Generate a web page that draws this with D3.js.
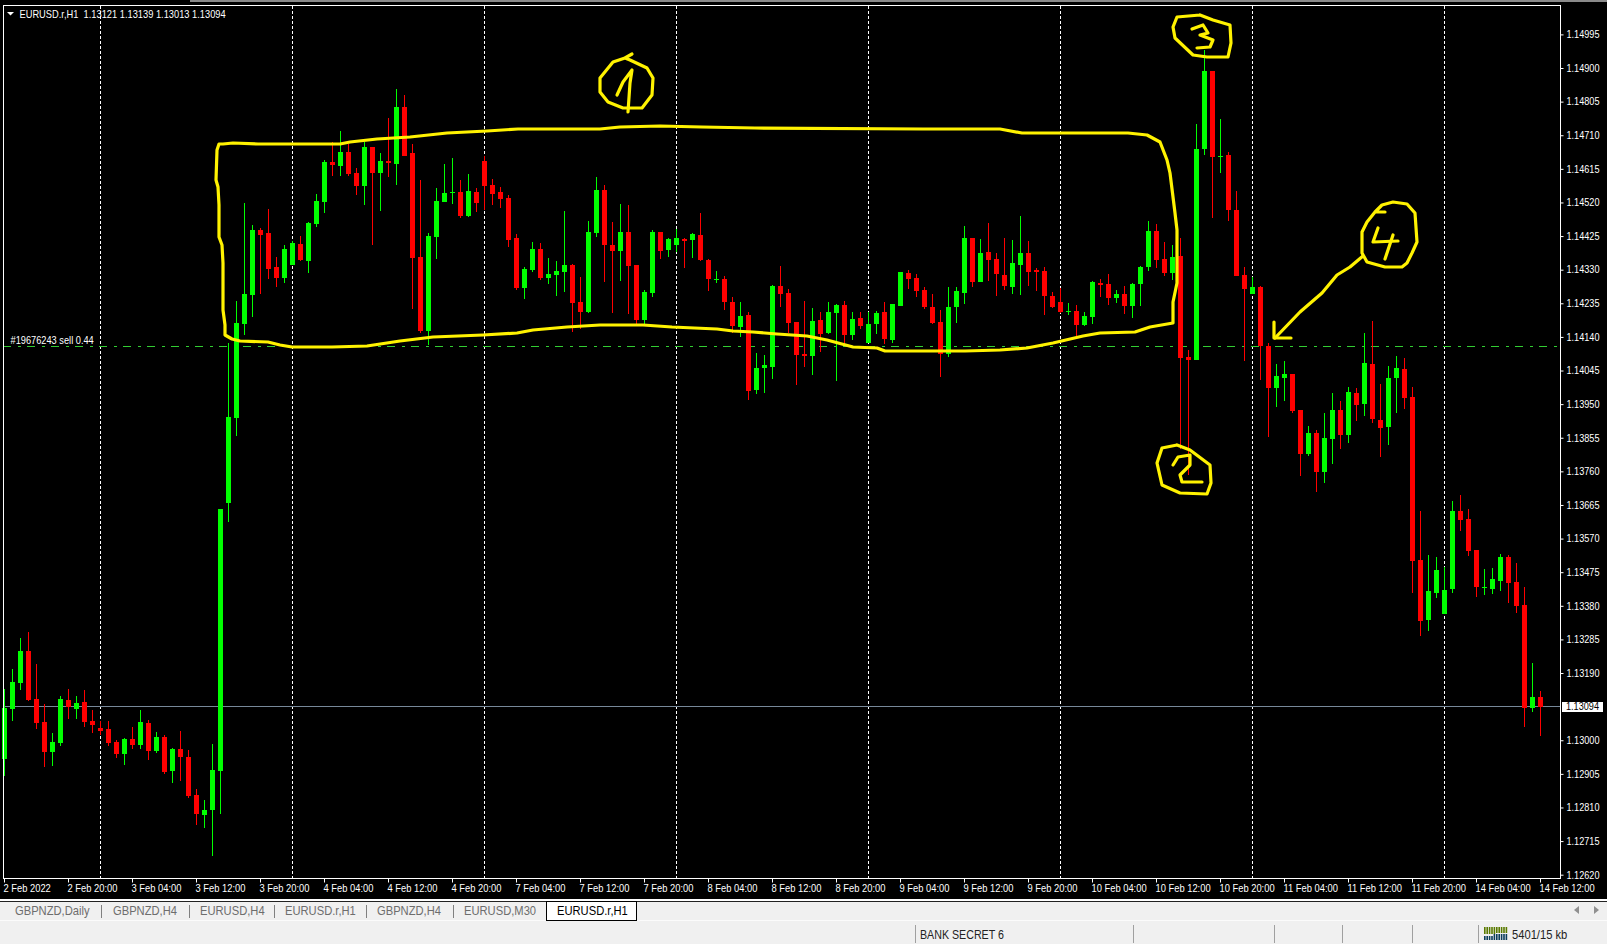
<!DOCTYPE html>
<html><head><meta charset="utf-8">
<script src="https://cdn.jsdelivr.net/npm/d3@7/dist/d3.min.js"></script>
<style>
html,body{margin:0;padding:0;background:#000;overflow:hidden}
svg{display:block}
text{font-family:"Liberation Sans",sans-serif}
</style></head><body><svg id="c" width="1607" height="944"></svg>
<script>
const open=[1.12947,1.13088,1.13161,1.13252,1.13116,1.13051,1.12966,1.12991,1.13113,1.13088,
1.13108,1.13054,1.13034,1.13031,1.12995,1.12961,1.13003,1.12986,1.13048,1.12969,
1.13009,1.12913,1.12975,1.12952,1.12845,1.12788,1.12802,1.12913,1.13671,1.13911,
1.14177,1.14259,1.14442,1.14434,1.14338,1.14306,1.14343,1.14402,1.14354,1.14459,
1.14521,1.14634,1.14623,1.14662,1.14603,1.14566,1.14677,1.14603,1.14637,1.14629,
1.14790,1.14660,1.14366,1.14157,1.14422,1.14521,1.14547,1.14549,1.14482,1.14549,
1.14637,1.14569,1.14549,1.14532,1.14419,1.14278,1.14329,1.14388,1.14306,1.14315,
1.14323,1.14343,1.14238,1.14210,1.14434,1.14556,1.14400,1.14383,1.14437,1.14344,
1.14188,1.14264,1.14437,1.14386,1.14400,1.14417,1.14414,1.14428,1.14358,1.14301,
1.14304,1.14239,1.14168,1.14202,1.13990,1.14052,1.14055,1.14284,1.14264,1.14182,
1.14092,1.14086,1.14188,1.14151,1.14208,1.14231,1.14146,1.14194,1.14123,1.14177,
1.14211,1.14132,1.14228,1.14321,1.14307,1.14273,1.14225,1.14182,1.14092,1.14225,
1.14264,1.14420,1.14296,1.14380,1.14361,1.14315,1.14281,1.14343,1.14377,1.14329,
1.14326,1.14255,1.14238,1.14210,1.14213,1.14173,1.14196,1.14292,1.14289,1.14250,
1.14261,1.14227,1.14289,1.14337,1.14439,1.14360,1.14320,1.14368,1.14083,1.14074,
1.14671,1.14891,1.14648,1.14654,1.14498,1.14315,1.14261,1.14281,1.14114,1.13995,
1.14024,1.14035,1.13933,1.13809,1.13868,1.13758,1.13851,1.13933,1.13862,1.13981,
1.13950,1.14063,1.13905,1.13885,1.14024,1.14049,1.13970,1.13509,1.13339,1.13416,
1.13356,1.13427,1.13648,1.13625,1.13537,1.13430,1.13427,1.13450,1.13518,1.13447,
1.13382,1.13091,1.13121];
const high=[1.13144,1.13201,1.13289,1.13306,1.13215,1.13102,1.13020,1.13125,1.13144,1.13125,
1.13142,1.13085,1.13054,1.13054,1.13000,1.13006,1.13037,1.13085,1.13057,1.13023,
1.13014,1.12978,1.13026,1.12972,1.12862,1.12831,1.12989,1.13654,1.14122,1.14242,
1.14519,1.14456,1.14448,1.14502,1.14366,1.14400,1.14411,1.14425,1.14465,1.14544,
1.14640,1.14691,1.14722,1.14685,1.14617,1.14691,1.14677,1.14660,1.14759,1.14841,
1.14824,1.14685,1.14583,1.14434,1.14561,1.14629,1.14646,1.14583,1.14600,1.14561,
1.14651,1.14586,1.14564,1.14541,1.14431,1.14337,1.14408,1.14405,1.14363,1.14354,
1.14496,1.14346,1.14309,1.14467,1.14592,1.14570,1.14465,1.14516,1.14513,1.14344,
1.14273,1.14443,1.14437,1.14420,1.14445,1.14420,1.14434,1.14491,1.14361,1.14327,
1.14313,1.14253,1.14239,1.14211,1.14095,1.14089,1.14287,1.14341,1.14276,1.14182,
1.14242,1.14222,1.14211,1.14239,1.14233,1.14242,1.14211,1.14211,1.14211,1.14214,
1.14239,1.14233,1.14324,1.14329,1.14318,1.14281,1.14262,1.14216,1.14281,1.14281,
1.14454,1.14420,1.14417,1.14462,1.14378,1.14419,1.14414,1.14481,1.14411,1.14334,
1.14337,1.14267,1.14278,1.14236,1.14230,1.14210,1.14298,1.14303,1.14318,1.14272,
1.14284,1.14292,1.14340,1.14467,1.14459,1.14408,1.14399,1.14419,1.14103,1.14742,
1.14951,1.14891,1.14756,1.14662,1.14552,1.14337,1.14309,1.14284,1.14122,1.14063,
1.14072,1.14035,1.13933,1.13888,1.13877,1.13925,1.13981,1.13959,1.13998,1.13995,
1.14151,1.14185,1.14007,1.14057,1.14086,1.14080,1.13998,1.13648,1.13523,1.13518,
1.13489,1.13676,1.13693,1.13653,1.13537,1.13484,1.13486,1.13526,1.13523,1.13501,
1.13433,1.13218,1.13139];
const low=[1.12899,1.13054,1.13142,1.13111,1.13031,1.12924,1.12927,1.12983,1.13060,1.13060,
1.13037,1.13020,1.13014,1.12983,1.12949,1.12930,1.12975,1.12975,1.12944,1.12964,
1.12904,1.12879,1.12884,1.12836,1.12760,1.12752,1.12672,1.12791,1.13618,1.13860,
1.14146,1.14196,1.14261,1.14304,1.14281,1.14292,1.14343,1.14354,1.14320,1.14450,
1.14490,1.14595,1.14595,1.14595,1.14541,1.14513,1.14400,1.14496,1.14592,1.14569,
1.14651,1.14219,1.14151,1.14117,1.14360,1.14521,1.14516,1.14476,1.14479,1.14493,
1.14499,1.14513,1.14504,1.14394,1.14272,1.14247,1.14323,1.14301,1.14289,1.14255,
1.14267,1.14154,1.14162,1.14207,1.14422,1.14296,1.14208,1.14298,1.14205,1.14177,
1.14174,1.14253,1.14361,1.14366,1.14380,1.14335,1.14363,1.14355,1.14270,1.14293,
1.14216,1.14151,1.14140,1.13962,1.13979,1.13982,1.14021,1.14225,1.14151,1.14004,
1.14055,1.14033,1.14098,1.14149,1.14016,1.14117,1.14132,1.14163,1.14123,1.14149,
1.14120,1.14123,1.14228,1.14276,1.14253,1.14219,1.14177,1.14027,1.14084,1.14180,
1.14233,1.14281,1.14296,1.14298,1.14256,1.14272,1.14261,1.14258,1.14284,1.14269,
1.14202,1.14221,1.14207,1.14202,1.14142,1.14171,1.14176,1.14252,1.14230,1.14236,
1.14204,1.14193,1.14227,1.14326,1.14334,1.14312,1.14301,1.13823,1.13749,1.14074,
1.14654,1.14476,1.14603,1.14467,1.14312,1.14072,1.14261,1.14018,1.13857,1.13942,
1.13959,1.13925,1.13747,1.13803,1.13701,1.13727,1.13780,1.13823,1.13840,1.13902,
1.13916,1.13896,1.13800,1.13834,1.13925,1.13936,1.13416,1.13294,1.13308,1.13402,
1.13356,1.13416,1.13591,1.13520,1.13404,1.13410,1.13413,1.13421,1.13388,1.13359,
1.13037,1.13079,1.13013];
const close=[1.13091,1.13164,1.13252,1.13113,1.13048,1.12966,1.12995,1.13116,1.13094,1.13105,
1.13051,1.13043,1.13025,1.12991,1.12961,1.13003,1.12986,1.13051,1.12969,1.13009,
1.12910,1.12975,1.12952,1.12842,1.12791,1.12802,1.12915,1.13654,1.13914,1.14179,
1.14261,1.14442,1.14428,1.14332,1.14307,1.14388,1.14405,1.14357,1.14462,1.14524,
1.14634,1.14626,1.14662,1.14600,1.14566,1.14677,1.14603,1.14637,1.14631,1.14790,
1.14651,1.14363,1.14157,1.14425,1.14524,1.14547,1.14549,1.14482,1.14552,1.14518,
1.14566,1.14544,1.14530,1.14414,1.14278,1.14332,1.14388,1.14306,1.14318,1.14326,
1.14343,1.14236,1.14210,1.14436,1.14555,1.14400,1.14383,1.14437,1.14341,1.14188,
1.14267,1.14437,1.14383,1.14417,1.14420,1.14411,1.14431,1.14358,1.14304,1.14304,
1.14239,1.14171,1.14199,1.13987,1.14052,1.14061,1.14284,1.14262,1.14180,1.14089,
1.14086,1.14185,1.14149,1.14211,1.14231,1.14146,1.14191,1.14171,1.14177,1.14208,
1.14134,1.14233,1.14324,1.14304,1.14270,1.14225,1.14180,1.14092,1.14225,1.14270,
1.14420,1.14296,1.14378,1.14358,1.14318,1.14284,1.14349,1.14377,1.14323,1.14323,
1.14255,1.14224,1.14210,1.14213,1.14173,1.14199,1.14295,1.14286,1.14250,1.14261,
1.14227,1.14289,1.14337,1.14439,1.14357,1.14320,1.14366,1.14080,1.14074,1.14671,
1.14891,1.14648,1.14651,1.14498,1.14312,1.14275,1.14281,1.14114,1.13995,1.14029,
1.14035,1.13930,1.13809,1.13868,1.13758,1.13854,1.13933,1.13862,1.13984,1.13947,
1.14066,1.13908,1.13882,1.14024,1.14052,1.13967,1.13506,1.13337,1.13421,1.13481,
1.13424,1.13648,1.13622,1.13535,1.13433,1.13433,1.13455,1.13518,1.13444,1.13379,
1.13091,1.13122,1.13094];
const xTickLabels=["2 Feb 2022","2 Feb 20:00","3 Feb 04:00","3 Feb 12:00","3 Feb 20:00","4 Feb 04:00","4 Feb 12:00","4 Feb 20:00","7 Feb 04:00","7 Feb 12:00","7 Feb 20:00","8 Feb 04:00","8 Feb 12:00","8 Feb 20:00","9 Feb 04:00","9 Feb 12:00","9 Feb 20:00","10 Feb 04:00","10 Feb 12:00","10 Feb 20:00","11 Feb 04:00","11 Feb 12:00","11 Feb 20:00","14 Feb 04:00","14 Feb 12:00"];
const priceTicks=[1.14995,1.14900,1.14805,1.14710,1.14615,1.14520,1.14425,1.14330,1.14235,1.14140,1.14045,1.13950,1.13855,1.13760,1.13665,1.13570,1.13475,1.13380,1.13285,1.13190,1.13000,1.12905,1.12810,1.12715,1.12620];
const separatorBars=[12,36,60,84,108,132,156,180];
const bid=1.13094, orderPrice=1.14113;
const header="EURUSD.r,H1  1.13121 1.13139 1.13013 1.13094";
const orderLabel="#19676243 sell 0.44";
const tabs=["GBPNZD,Daily","GBPNZD,H4","EURUSD,H4","EURUSD.r,H1","GBPNZD,H4","EURUSD,M30","EURUSD.r,H1"];
const statusBroker="BANK SECRET 6", statusConn="5401/15 kb";

const svg=d3.select("#c");
const L=3,R=1560,T=5,B=878;
const x=d3.scaleLinear().domain([0,192]).range([4.5,1540.5]);
const y=d3.scaleLinear().domain([1.14995,1.12620]).range([34.4,874.7]);
const GREEN="#00ff00",RED="#ff0000";
// Tahoma-like narrowing of the installed sans
function squeeze(sel,r){sel.each(function(){const n=this.getComputedTextLength();this.setAttribute("textLength",(n*r).toFixed(2));this.setAttribute("lengthAdjust","spacingAndGlyphs");});return sel;}
const levelY=p=>Math.floor(y(p)-0.3)+.5;

svg.append("rect").attr("width",1607).attr("height",944).attr("fill","#000");
svg.append("rect").attr("x",190).attr("width",1417).attr("height",2).attr("fill","#8a8a8a");

// period separators
svg.append("g").selectAll("line").data(separatorBars).join("line")
 .attr("x1",d=>Math.floor(x(d))+.5).attr("x2",d=>Math.floor(x(d))+.5)
 .attr("y1",T+1).attr("y2",B).attr("stroke","#fff").attr("stroke-dasharray","3,2");

// horizontal levels
svg.append("line").attr("x1",L).attr("x2",R).attr("y1",levelY(bid)).attr("y2",levelY(bid)).attr("stroke","#778899");
svg.append("line").attr("x1",L).attr("x2",R).attr("y1",levelY(orderPrice)).attr("y2",levelY(orderPrice))
 .attr("stroke","#32cd32").attr("stroke-dasharray","8,7,3,6");

// candles
const idx=d3.range(open.length);
const col=i=>close[i]>=open[i]?GREEN:RED;
const g=svg.append("g").attr("shape-rendering","crispEdges");
g.selectAll("rect.w").data(idx).join("rect").attr("class","w")
 .attr("x",i=>Math.floor(x(i))).attr("width",1)
 .attr("y",i=>Math.round(y(high[i]))).attr("height",i=>Math.max(1,Math.round(y(low[i]))-Math.round(y(high[i]))))
 .attr("fill",col);
g.selectAll("rect.b").data(idx).join("rect").attr("class","b")
 .attr("x",i=>Math.floor(x(i))-2).attr("width",5)
 .attr("y",i=>Math.round(y(Math.max(open[i],close[i]))))
 .attr("height",i=>Math.max(1,Math.round(y(Math.min(open[i],close[i])))-Math.round(y(Math.max(open[i],close[i])))))
 .attr("fill",col);

// axes
const axY=d3.axisRight(y).tickValues(priceTicks).tickFormat(d3.format(".5f")).tickSize(3).tickPadding(3);
const gy=svg.append("g").attr("transform",`translate(${R+.5},0)`).call(axY);
const axX=d3.axisBottom(x).tickValues(xTickLabels.map((_,k)=>k*8)).tickFormat(d=>xTickLabels[d/8]).tickSize(4).tickPadding(1);
const gx=svg.append("g").attr("transform",`translate(-0.5,${B+.5})`).call(axX);
gy.select(".domain").remove(); gx.select(".domain").remove();
[gx,gy].forEach(a=>{a.attr("font-family",null).attr("font-size",null);a.selectAll("line").attr("stroke","#fff");a.selectAll("text").attr("fill","#fff").style("font-size","11px");});
gy.selectAll("text").attr("dy","0.3em");
gx.selectAll("text").attr("text-anchor","start").attr("x",-1).attr("y",5).attr("dy","0.8em");
squeeze(gy.selectAll("text"),0.83);
squeeze(gx.selectAll("text"),0.85);
// frame
const frame=[[L,T,R-L+1,1],[L,T,1,B-T],[R,T,1,B-T+1],[L,B,R-L+1,1]];
svg.append("g").selectAll("rect").data(frame).join("rect").attr("x",d=>d[0]).attr("y",d=>d[1]).attr("width",d=>d[2]).attr("height",d=>d[3]).attr("fill","#fff");

// bid box
svg.append("rect").attr("x",1562).attr("y",Math.round(y(bid))-5).attr("width",41).attr("height",10).attr("fill","#fff");
squeeze(svg.append("text").attr("x",1566).attr("y",y(bid)+3.5).attr("fill","#000").style("font-size","11px").text(d3.format(".5f")(bid)),0.83);

// header
svg.append("path").attr("d","M7,12L14,12L10.5,15.5Z").attr("fill","#fff");
squeeze(svg.append("text").attr("x",19.5).attr("y",17.5).attr("fill","#fff").style("font-size","11px").style("white-space","pre").text(header),0.845);
squeeze(svg.append("text").attr("x",10.5).attr("y",344).attr("fill","#fff").style("font-size","11px").text(orderLabel),0.84);

// hand-drawn annotations
const outline=[[223,144],[219,144],[217,150],[216,180],[218,187],[219,205],[219,237],[222,245],[223,263],[223,310],[225,325],[225,335],[232,339],[240,341],[268,342],[280,345],[292,347],[332,347],[367,346],[400,341],[433,337],[483,335],[517,333],[533,330],[567,327],[600,325],[643,325],[672,327],[717,329],[733,331],[753,332],[777,334],[807,336],[827,340],[853,347],[877,348],[885,351],[965,351],[1000,350],[1027,348],[1053,343],[1083,336],[1100,333],[1135,332],[1150,327],[1173,323],[1173,302],[1177,283],[1177,230],[1175,213],[1173,197],[1170,173],[1167,160],[1160,142],[1147,135],[1128,133],[1022,133],[1000,129],[923,129],[755,128],[702,127],[660,126],[620,127],[600,129],[518,129],[487,131],[447,133],[410,137],[377,139],[350,142],[340,144],[258,144],[233,143],[223,144]];
const scribbles=[outline,
[[632,54],[625,58],[613,62],[600,78],[600,92],[608,102],[623,108],[642,108],[652,95],[653,78],[647,68],[630,60],[625,58]],
[[617,95],[623,82],[632,70],[630,83],[628,112]],
[[1200,15],[1177,17],[1173,27],[1175,38],[1193,55],[1207,57],[1228,57],[1231,43],[1230,25],[1213,20],[1200,15]],
[[1192,29],[1203,25],[1208,33],[1200,35],[1213,40],[1210,47],[1197,48]],
[[1177,445],[1162,448],[1157,463],[1162,485],[1180,493],[1207,494],[1211,483],[1210,465],[1190,450],[1177,445]],
[[1173,465],[1178,457],[1190,455],[1190,465],[1180,475],[1182,482],[1202,482]],
[[1385,212],[1375,212],[1382,205],[1393,202],[1407,204],[1415,213],[1417,242],[1412,253],[1407,263],[1402,267],[1385,267],[1367,262],[1362,253],[1362,232],[1367,222],[1375,212]],
[[1378,228],[1373,242],[1398,241]],[[1393,235],[1385,259]],
[[1363,256],[1350,267],[1337,275],[1322,293],[1300,312],[1275,338]],
[[1274,322],[1274,338],[1291,338]]];
const ln=d3.line();
svg.append("g").selectAll("path").data(scribbles).join("path").attr("d",ln).attr("fill","none")
 .attr("stroke","#fff200").attr("stroke-width",3.2).attr("stroke-linejoin","round").attr("stroke-linecap","round");

// tab strip and status bar
svg.append("rect").attr("y",899).attr("width",1607).attr("height",2).attr("fill","#fff");
svg.append("rect").attr("y",901).attr("width",1607).attr("height",43).attr("fill","#f0f0f0");
svg.append("rect").attr("y",920).attr("width",1607).attr("height",1).attr("fill","#fbfbfb");
svg.append("rect").attr("y",901).attr("width",1607).attr("height",1).attr("fill","#222");
const tabX=[15,113,200,285,377,464,557];
const tabSep=[101,189,274,366,453];
svg.append("rect").attr("x",546.5).attr("y",901.5).attr("width",90).attr("height",19).attr("fill","#fff").attr("stroke","#000");
svg.append("g").selectAll("rect").data(tabSep).join("rect").attr("x",d=>d).attr("y",905).attr("width",1).attr("height",13).attr("fill","#808080");
squeeze(svg.append("g").selectAll("text").data(tabs).join("text").attr("x",(d,i)=>tabX[i]).attr("y",915).style("font-size","13px")
 .attr("fill",(d,i)=>i==6?"#000":"#6d6d6d").text(d=>d),0.86);
svg.append("path").attr("d","M1574,910L1579,906L1579,914ZM1599,910L1594,906L1594,914Z").attr("fill","#909090");
svg.append("g").selectAll("rect").data([915,1133,1274,1342,1412,1478]).join("rect").attr("x",d=>d).attr("y",925).attr("width",1).attr("height",18).attr("fill","#a0a0a0");
squeeze(svg.append("text").attr("x",920).attr("y",939).attr("fill","#222").style("font-size","13px").text(statusBroker),0.82);
squeeze(svg.append("text").attr("x",1512).attr("y",939).attr("fill","#222").style("font-size","13px").text(statusConn),0.86);
const sb=d3.range(10);
svg.append("g").selectAll("rect").data(sb).join("rect").attr("x",d=>1484+d*2.4).attr("y",927).attr("width",1.6).attr("height",d=>d<5?7:6).attr("fill","#5a7a00");
svg.append("g").selectAll("rect").data(sb).join("rect").attr("x",d=>1484+d*2.4).attr("y",d=>d<4?936:934).attr("width",1.6).attr("height",d=>d<4?4:6).attr("fill","#0b3d5c");
</script></body></html>
